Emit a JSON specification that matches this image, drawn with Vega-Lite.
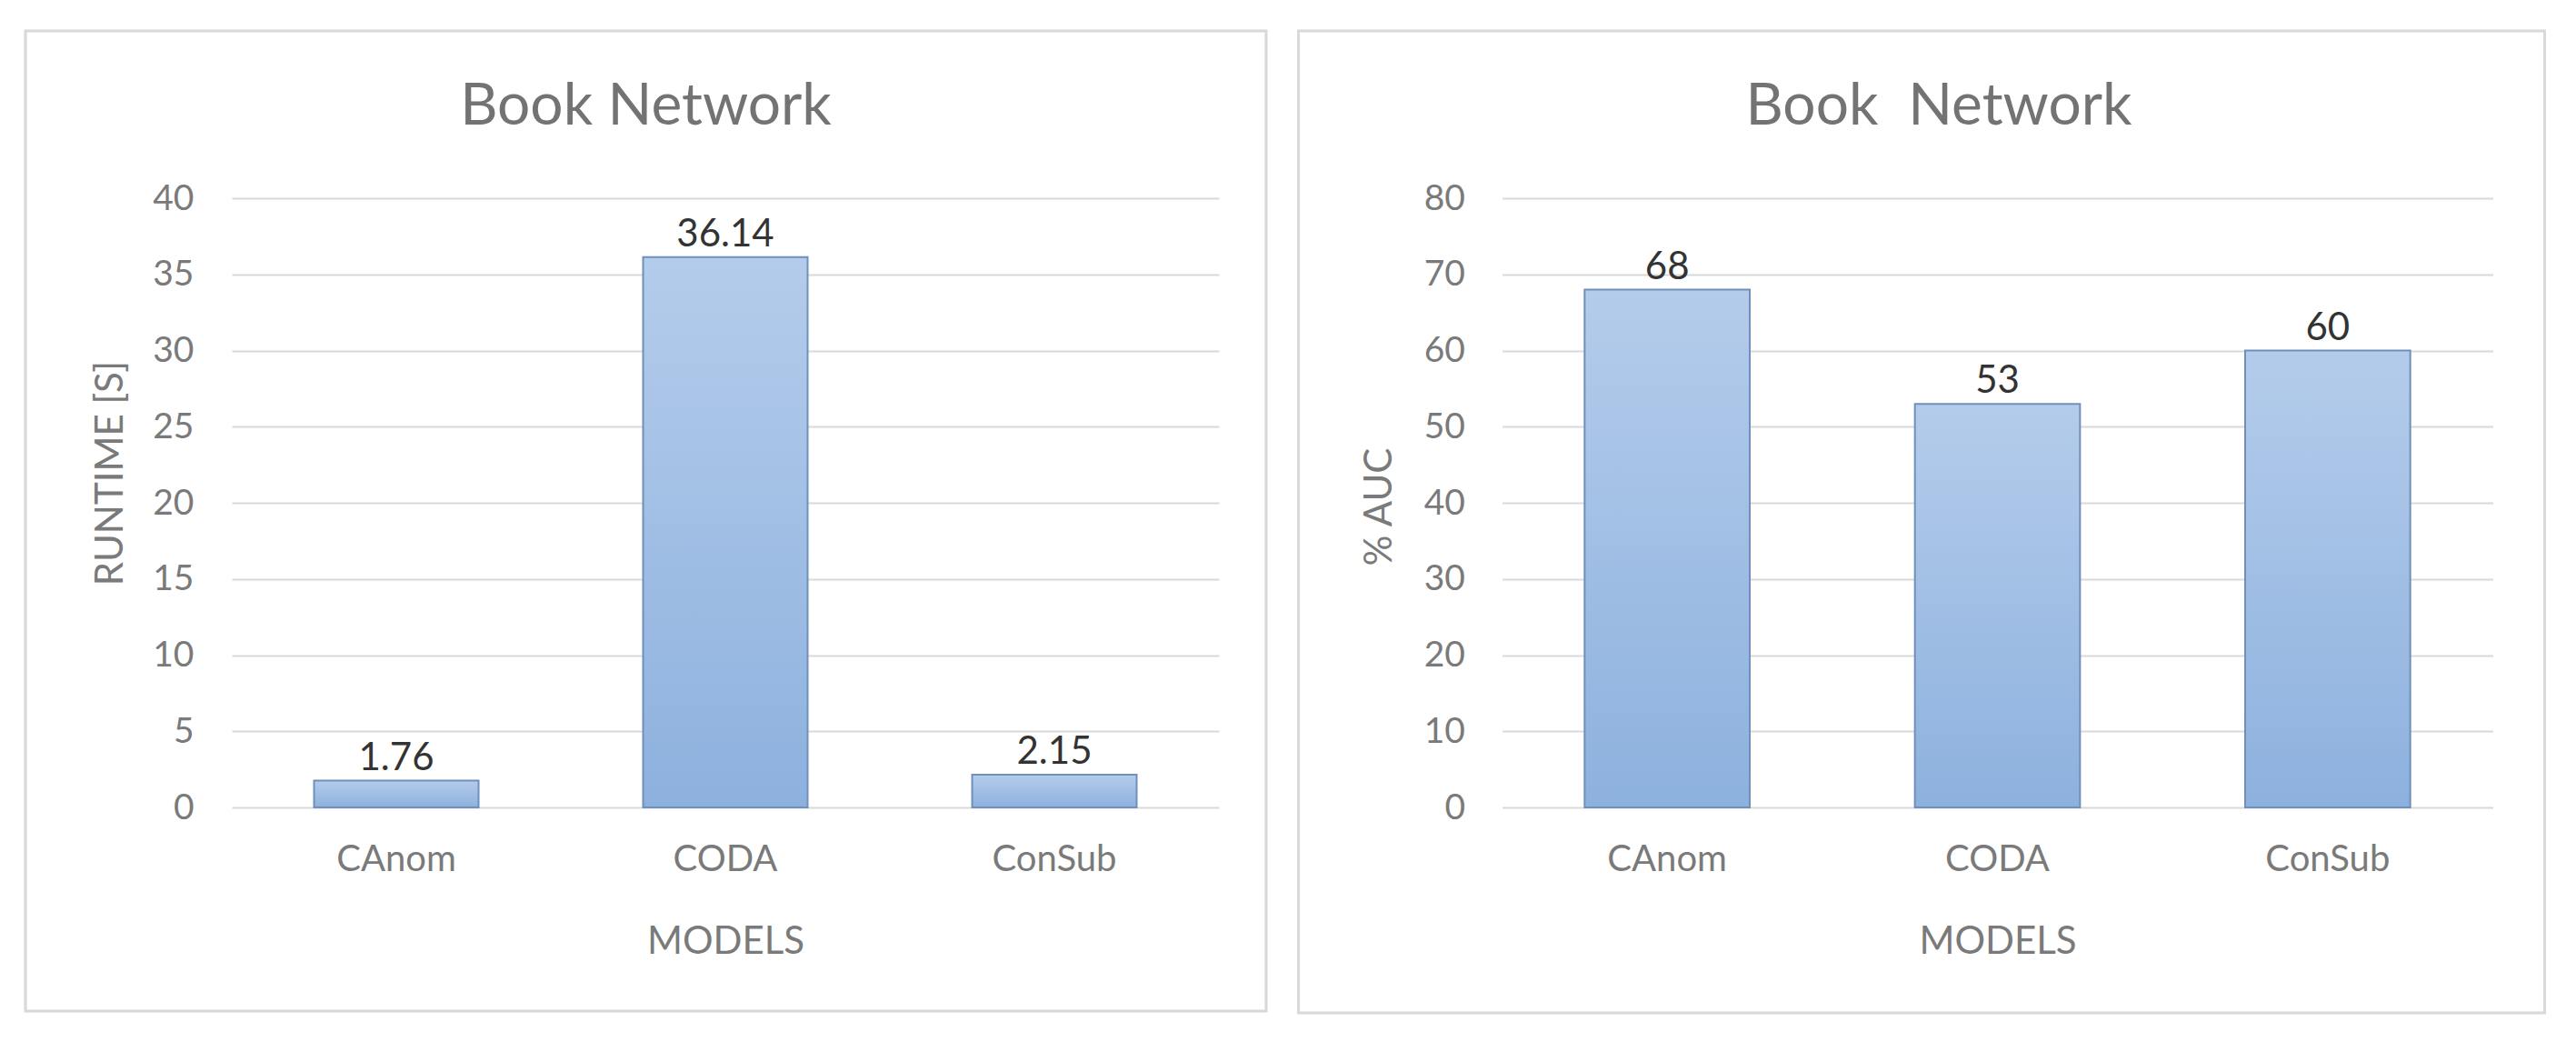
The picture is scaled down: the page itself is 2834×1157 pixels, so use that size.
{
  "$schema": "https://vega.github.io/schema/vega-lite/v6.json",
  "background": "white",
  "padding": {"left": 26, "top": 32, "right": 0, "bottom": 0},
  "spacing": 31.5,
  "config": {
    "font": "Lato",
    "view": {"stroke": null},
    "axisY": {
      "domain": false, "ticks": false, "tickSize": 0, "grid": true,
      "gridColor": "#d9d9d9", "gridWidth": 2,
      "labelFontSize": 39, "labelColor": "#7a7a7a",
      "titleFontSize": 42, "titleFontWeight": "normal", "titleColor": "#7a7a7a",
      "titleBaseline": "alphabetic", "titleAngle": -90, "titleAlign": "center"
    },
    "axisX": {
      "domain": false, "ticks": false, "tickSize": 0, "grid": false,
      "labelAngle": 0, "labelFontSize": 40, "labelColor": "#7a7a7a", "labelPadding": 37,
      "titleFontSize": 42, "titleFontWeight": "normal", "titleColor": "#7a7a7a",
      "titleBaseline": "alphabetic", "titleY": 160
    }
  },
  "hconcat": [
    {
      "width": 1086,
      "height": 670,
      "title": {"text": "Book Network", "anchor": "middle", "frame": "bounds", "offset": -168, "baseline": "alphabetic", "fontSize": 64, "fontWeight": "normal", "color": "#737373", "font": "Lato"},
      "data": {"values": [
        {"model": "CAnom", "runtime": 1.76},
        {"model": "CODA", "runtime": 36.14},
        {"model": "ConSub", "runtime": 2.15}
      ]},
      "layer": [
        {
          "layer": [
            {
              "mark": {"type": "bar", "color": {"gradient": "linear", "x1": 0, "y1": 0, "x2": 0, "y2": 1, "stops": [{"offset": 0, "color": "#b4cceb"}, {"offset": 1, "color": "#8db1de"}]}, "stroke": "#7090bb", "strokeWidth": 2},
              "encoding": {
                "x": {"field": "model", "type": "nominal", "sort": null, "scale": {"paddingInner": 0.5, "paddingOuter": 0.25}, "axis": {"title": "MODELS"}},
                "y": {"field": "runtime", "type": "quantitative", "scale": {"domain": [0, 40], "nice": false}, "axis": {"title": "RUNTIME [S]", "values": [0, 5, 10, 15, 20, 25, 30, 35, 40], "labelPadding": 42, "titleX": -121, "titleY": 302}}
              }
            },
            {
              "mark": {"type": "text", "baseline": "alphabetic", "dy": -12, "fontSize": 42, "color": "#333333"},
              "encoding": {
                "x": {"field": "model", "type": "nominal", "sort": null},
                "y": {"field": "runtime", "type": "quantitative"},
                "text": {"field": "runtime", "type": "quantitative", "format": ".2f"}
              }
            }
          ]
        },
        {
          "mark": {"type": "rect", "filled": false, "stroke": "#d9d9d9", "strokeWidth": 2.5},
          "encoding": {
            "x": {"datum": -0.20902, "type": "quantitative", "scale": {"domain": [0, 1], "nice": false, "zero": false}, "axis": null},
            "x2": {"datum": 1.04788},
            "y": {"datum": 50.985, "type": "quantitative", "scale": {"domain": [0, 40], "nice": false}},
            "y2": {"datum": -13.373}
          }
        }
      ],
      "resolve": {"scale": {"x": "independent"}, "axis": {"x": "independent"}}
    },
    {
      "width": 1090,
      "height": 670,
      "title": {"text": "Book\u00a0 Network", "anchor": "middle", "frame": "bounds", "offset": -168, "dx": 19, "baseline": "alphabetic", "fontSize": 64, "fontWeight": "normal", "color": "#737373", "font": "Lato"},
      "data": {"values": [
        {"model": "CAnom", "auc": 68},
        {"model": "CODA", "auc": 53},
        {"model": "ConSub", "auc": 60}
      ]},
      "layer": [
        {
          "layer": [
            {
              "mark": {"type": "bar", "color": {"gradient": "linear", "x1": 0, "y1": 0, "x2": 0, "y2": 1, "stops": [{"offset": 0, "color": "#b4cceb"}, {"offset": 1, "color": "#8db1de"}]}, "stroke": "#7090bb", "strokeWidth": 2},
              "encoding": {
                "x": {"field": "model", "type": "nominal", "sort": null, "scale": {"paddingInner": 0.5, "paddingOuter": 0.25}, "axis": {"title": "MODELS"}},
                "y": {"field": "auc", "type": "quantitative", "scale": {"domain": [0, 80], "nice": false}, "axis": {"title": "% AUC", "values": [0, 10, 20, 30, 40, 50, 60, 70, 80], "labelPadding": 41, "titleX": -122, "titleY": 339}}
              }
            },
            {
              "mark": {"type": "text", "baseline": "alphabetic", "dy": -12, "fontSize": 42, "color": "#333333"},
              "encoding": {
                "x": {"field": "model", "type": "nominal", "sort": null},
                "y": {"field": "auc", "type": "quantitative"},
                "text": {"field": "auc", "type": "quantitative", "format": "d"}
              }
            }
          ]
        },
        {
          "mark": {"type": "rect", "filled": false, "stroke": "#d9d9d9", "strokeWidth": 2.5},
          "encoding": {
            "x": {"datum": -0.2055, "type": "quantitative", "scale": {"domain": [0, 1], "nice": false, "zero": false}, "axis": null},
            "x2": {"datum": 1.05229},
            "y": {"datum": 101.97, "type": "quantitative", "scale": {"domain": [0, 80], "nice": false}},
            "y2": {"datum": -26.99}
          }
        }
      ],
      "resolve": {"scale": {"x": "independent"}, "axis": {"x": "independent"}}
    }
  ]
}
